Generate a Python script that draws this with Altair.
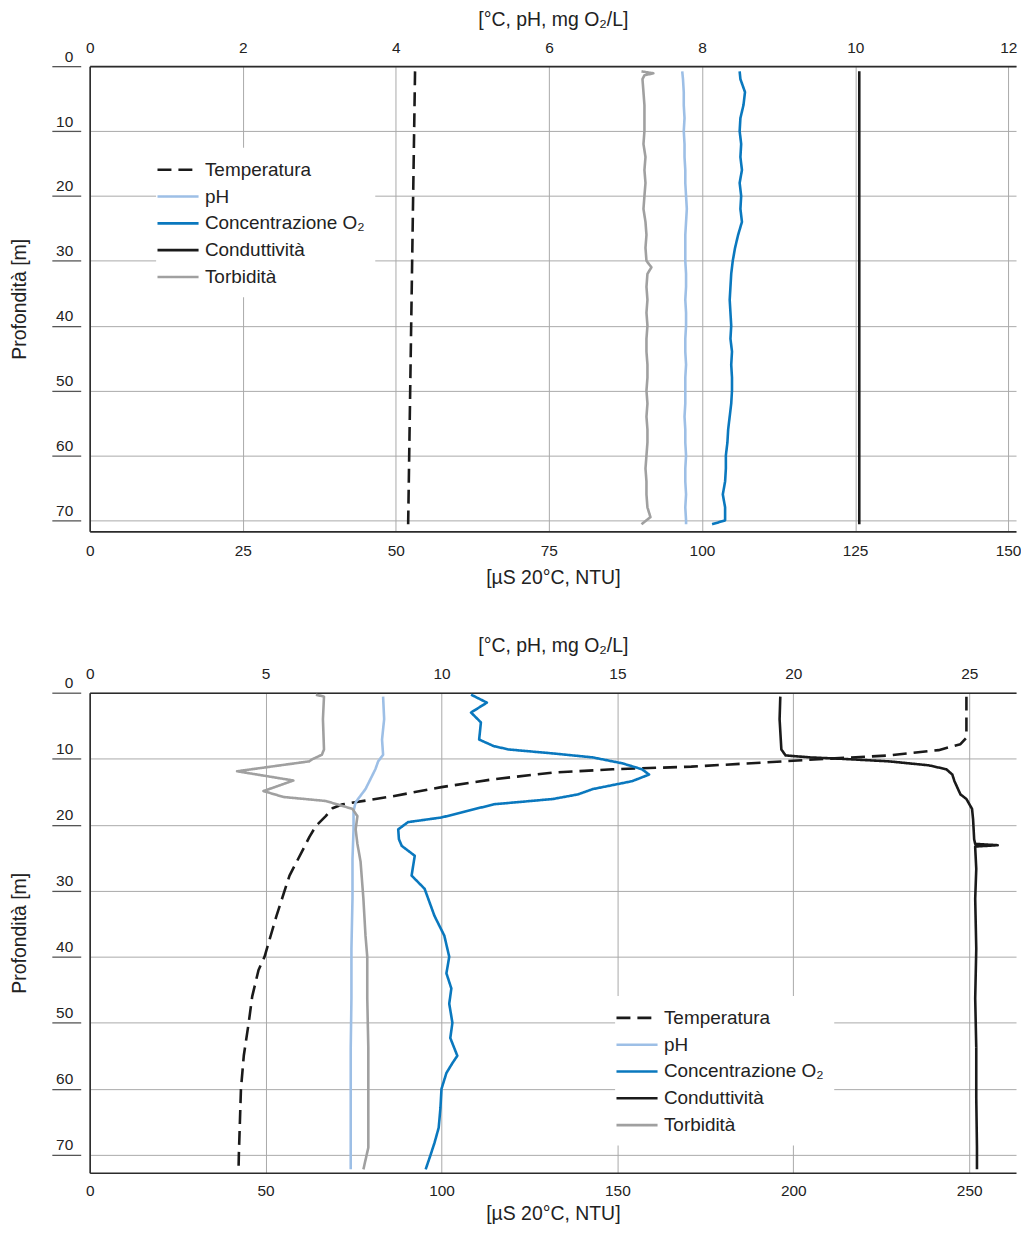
import altair as alt
import pandas as pd

FONT = "Liberation Sans"
SERIES = ["Temperatura", "pH", "Concentrazione O₂", "Conduttività", "Torbidità"]
COLORS = ["#1a1a1a", "#9dbfe6", "#0a78be", "#1a1a1a", "#a0a0a0"]
DASHES = [[14, 7], [1, 0], [1, 0], [1, 0], [1, 0]]
TOP_TITLE = "[°C, pH, mg O₂/L]"
BOT_TITLE = "[µS 20°C, NTU]"
Y_TITLE = "Profondità [m]"
Y_TICKS = [0, 10, 20, 30, 40, 50, 60, 70]

# ---------------- panel 1 ----------------
P1_TOP_TICKS = [0, 2, 4, 6, 8, 10, 12]
P1_BOT_TICKS = [0, 25, 50, 75, 100, 125, 150]

P1_DEPTH = [0.8, 2, 4, 6, 8, 10, 12, 14, 16, 18, 20, 22, 24, 26, 28, 30, 32, 34, 36, 38,
            40, 42, 44, 46, 48, 50, 52, 54, 56, 58, 60, 62, 64, 66, 68, 70, 70.6]
P1_PH = [7.74, 7.75, 7.76, 7.76, 7.77, 7.76, 7.77, 7.77, 7.78, 7.78, 7.79, 7.80, 7.79, 7.78,
         7.78, 7.78, 7.79, 7.79, 7.78, 7.79, 7.79, 7.78, 7.78, 7.79, 7.78, 7.78, 7.78, 7.77,
         7.78, 7.78, 7.79, 7.78, 7.78, 7.79, 7.78, 7.79, 7.79]
P1_O2 = [8.49, 8.50, 8.56, 8.54, 8.50, 8.49, 8.51, 8.50, 8.52, 8.49, 8.51, 8.50, 8.52, 8.47,
         8.43, 8.40, 8.38, 8.37, 8.36, 8.37, 8.38, 8.37, 8.39, 8.38, 8.39, 8.39, 8.38, 8.36,
         8.34, 8.33, 8.31, 8.31, 8.30, 8.27, 8.30, 8.30, 8.13]
P1_TEMP_DEPTH = [0.8, 70.6]
P1_TEMP = [4.25, 4.16]
P1_COND_DEPTH = [0.8, 70.6]
P1_COND = [125.7, 125.7]
P1_TURB_DEPTH = [0.8, 1.1, 1.4, 2, 4, 6, 8, 10, 12, 14, 16, 18, 20, 22, 24, 26, 28, 30, 31, 32,
                 34, 36, 38, 40, 42, 44, 46, 48, 50, 52, 54, 56, 58, 60, 62, 64, 66, 68, 69.5, 70.6]
P1_TURB = [90.13, 92.07, 90.61, 90.29, 90.45, 90.61, 90.61, 90.61, 90.45, 90.78,
           90.61, 90.78, 90.61, 90.45, 90.78, 90.94, 90.78, 90.94, 91.75, 91.10,
           90.94, 91.10, 90.94, 91.10, 90.94, 90.94, 91.10, 91.10, 90.94, 91.10,
           90.94, 91.10, 91.10, 90.94, 90.78, 90.94, 90.94, 91.10, 91.59, 90.13]

# ---------------- panel 2 ----------------
P2_TOP_TICKS = [0, 5, 10, 15, 20, 25]
P2_BOT_TICKS = [0, 50, 100, 150, 200, 250]

P2_TEMP_DEPTH = [0.6, 6.8, 7.8, 8.7, 9.5, 10.0, 10.6, 11.2, 11.6, 12.1, 13.1, 14.3, 15.7, 16.9,
                 17.5, 18.7, 20.2, 21.8, 23.7, 27.7, 33.8, 40.0, 42.0, 46.0, 50.0, 55.0, 60.0,
                 65.0, 70.0, 72.5]
P2_TEMP = [24.92, 24.92, 24.75, 24.13, 22.72, 20.98, 19.07, 17.10, 14.86, 13.17, 11.49, 10.00,
           8.60, 7.19, 6.90, 6.71, 6.43, 6.25, 6.07, 5.68, 5.31, 4.97, 4.80, 4.62, 4.52, 4.38,
           4.30, 4.27, 4.24, 4.23]
P2_PH_DEPTH = [0.6, 4.0, 7.1, 9.4, 10.4, 11.6, 13.1, 14.6, 15.8, 16.6, 17.9, 20.7, 25.2, 31.2,
               38.8, 46.3, 53.8, 61.4, 72.2]
P2_PH = [8.34, 8.37, 8.31, 8.34, 8.20, 8.12, 7.98, 7.84, 7.67, 7.56, 7.50, 7.50, 7.47, 7.47,
         7.44, 7.44, 7.42, 7.42, 7.42]
P2_O2_DEPTH = [0.3, 1.5, 3.0, 4.5, 7.1, 8.1, 8.6, 9.2, 9.8, 10.7, 11.6, 12.4, 13.4, 14.6, 15.4,
               16.1, 16.9, 18.9, 19.6, 20.7, 22.2, 23.2, 24.7, 27.7, 29.7, 33.8, 36.8, 40.0,
               42.5, 44.8, 47.1, 50.0, 52.3, 55.0, 56.1, 57.6, 60.0, 62.9, 65.9, 68.2, 70.0, 72.2]
P2_O2 = [10.84, 11.29, 10.84, 11.12, 11.07, 11.49, 11.91, 13.17, 14.30, 15.14, 15.70, 15.90,
         15.42, 14.30, 13.88, 13.17, 11.49, 10.00, 9.05, 8.77, 8.79, 8.87, 9.24, 9.15, 9.52,
         9.80, 10.08, 10.22, 10.14, 10.28, 10.22, 10.31, 10.25, 10.45, 10.31, 10.14, 10.00,
         9.97, 9.92, 9.80, 9.69, 9.55]
P2_COND_DEPTH = [0.6, 4.0, 8.6, 9.5, 9.8, 10.0, 10.4, 11.0, 11.6, 12.4, 13.4, 15.4, 16.1, 17.6,
                 19.2, 22.2, 22.9, 23.1, 23.3, 23.5, 26.7, 31.2, 38.8, 46.3, 53.8, 61.4, 68.9, 72.2]
P2_COND = [196.3, 196.1, 196.6, 197.8, 204.8, 213.2, 227.2, 238.5, 243.5, 245.2, 245.8, 247.5,
           249.2, 250.8, 251.1, 251.4, 251.7, 258.1, 251.7, 251.7, 252.0, 251.7, 252.0, 251.7,
           252.0, 252.0, 252.2, 252.2]
P2_TURB_DEPTH = [0.3, 0.6, 4.0, 8.6, 9.4, 10.1, 10.4, 11.9, 13.3, 14.9, 15.8, 16.4, 17.6, 18.7,
                 20.7, 22.9, 25.6, 31.2, 36.8, 40.0, 46.3, 53.8, 61.4, 68.9, 72.2]
P2_TURB = [64.3, 66.6, 66.3, 66.6, 66.0, 63.2, 62.4, 41.9, 57.9, 49.4, 55.1, 67.1, 74.7, 76.1,
           75.6, 76.1, 77.0, 77.8, 78.4, 78.9, 78.9, 79.2, 79.2, 79.2, 77.8]

GRID = "#a9a9a9"
FRAME = "#2b2b2b"
TEXT = "#222222"
W = 930


def frame(items):
    rows = []
    for name, depths, vals in items:
        for d, v in zip(depths, vals):
            rows.append({"series": name, "depth": d, "value": v})
    return pd.DataFrame(rows)


def panel(top_df, bot_df, top_dom, bot_dom, top_ticks, bot_ticks, y_max, h, lx, ly,
          bot_lp, bot_tp):
    legend = alt.Legend(title=None, orient="none", legendX=lx, legendY=ly,
                        symbolType="M-2,0H2", symbolSize=425, symbolStrokeWidth=2.6,
                        labelFontSize=19, labelColor=TEXT, labelFont=FONT, labelLimit=400,
                        rowPadding=4.9, labelOffset=15, fillColor="white", padding=10)
    color = alt.Color("series:N", scale=alt.Scale(domain=SERIES, range=COLORS), legend=legend)
    dash = alt.StrokeDash("series:N", scale=alt.Scale(domain=SERIES, range=DASHES), legend=legend)
    yscale = alt.Scale(domain=[0, y_max], reverse=True, nice=False, zero=False)

    a = alt.Chart(top_df).mark_line(strokeWidth=2.6, strokeJoin="round").encode(
        x=alt.X("value:Q",
                scale=alt.Scale(domain=top_dom, nice=False, zero=False),
                axis=alt.Axis(orient="top", values=top_ticks, title=TOP_TITLE, format="d",
                              ticks=False, tickSize=0, labelPadding=11, titlePadding=11,
                              grid=True, gridColor=GRID, gridWidth=1,
                              domainColor=FRAME, domainWidth=1.6,
                              labelFlush=False, labelOverlap=False)),
        y=alt.Y("depth:Q", scale=yscale,
                axis=alt.Axis(orient="left", values=Y_TICKS, title=Y_TITLE, format="d",
                              offset=9, domain=False, tickSize=29, tickColor="#555555",
                              tickWidth=1.3, labelPadding=-21, labelAlign="right",
                              labelBaseline="alphabetic", labelOffset=-5,
                              titlePadding=22, grid=True, gridColor=GRID, gridWidth=1,
                              labelOverlap=False)),
        color=color,
        strokeDash=dash,
        order=alt.Order("depth:Q"),
    )
    b = alt.Chart(bot_df).mark_line(strokeWidth=2.6, strokeJoin="round").encode(
        x=alt.X("value:Q",
                scale=alt.Scale(domain=bot_dom, nice=False, zero=False),
                axis=alt.Axis(orient="bottom", values=bot_ticks, title=BOT_TITLE, format="d",
                              ticks=False, tickSize=0, labelPadding=bot_lp, titlePadding=bot_tp,
                              grid=False, domainColor=FRAME, domainWidth=1.6,
                              labelFlush=False, labelOverlap=False)),
        y=alt.Y("depth:Q", scale=yscale,
                axis=alt.Axis(orient="left", title=None, labels=False, ticks=False,
                              grid=False, domainColor=FRAME, domainWidth=1.6)),
        color=color,
        strokeDash=dash,
        order=alt.Order("depth:Q"),
    )
    return alt.layer(a, b).resolve_scale(x="independent", y="independent").properties(
        width=W, height=h)


p1_top = frame([("Temperatura", P1_TEMP_DEPTH, P1_TEMP),
                ("pH", P1_DEPTH, P1_PH),
                ("Concentrazione O₂", P1_DEPTH, P1_O2)])
p1_bot = frame([("Conduttività", P1_COND_DEPTH, P1_COND),
                ("Torbidità", P1_TURB_DEPTH, P1_TURB)])
p2_top = frame([("Temperatura", P2_TEMP_DEPTH, P2_TEMP),
                ("pH", P2_PH_DEPTH, P2_PH),
                ("Concentrazione O₂", P2_O2_DEPTH, P2_O2)])
p2_bot = frame([("Conduttività", P2_COND_DEPTH, P2_COND),
                ("Torbidità", P2_TURB_DEPTH, P2_TURB)])

panel1 = panel(p1_top, p1_bot, [0, 12.10], [0, 151.3], P1_TOP_TICKS, P1_BOT_TICKS,
               71.69, 467, 66.7, 82, 12, 10)
panel2 = panel(p2_top, p2_bot, [0, 26.33], [0, 263.3], P2_TOP_TICKS, P2_BOT_TICKS,
               72.72, 482, 527.5, 304.5, 11, 5)

chart = alt.vconcat(panel1, panel2, spacing=49).resolve_scale(
    color="independent", strokeDash="independent"
).resolve_legend(
    color="independent", strokeDash="independent"
).properties(
    padding={"left": 1, "top": -1, "right": 0, "bottom": 0}
).configure(
    font=FONT
).configure_view(
    stroke=None
).configure_axis(
    labelFontSize=15.5, titleFontSize=19.5, labelColor=TEXT, titleColor=TEXT,
    titleFontWeight="normal", labelFont=FONT, titleFont=FONT
)

chart.save("out.html", embed_options={"renderer": "svg", "actions": False})
